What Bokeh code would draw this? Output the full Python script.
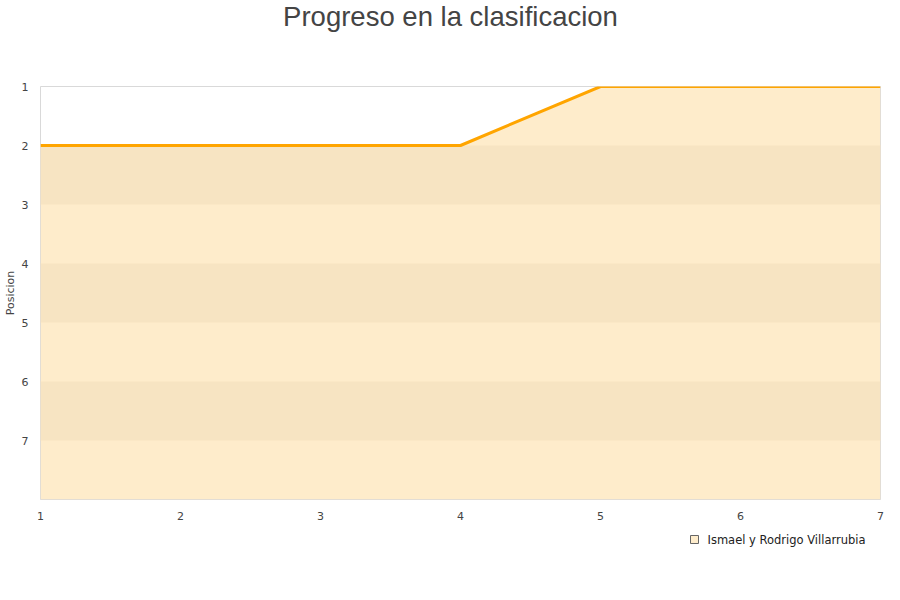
from bokeh.plotting import figure
from bokeh.models import Range1d, FixedTicker
from bokeh.layouts import column
from bokeh.core.properties import value
from bokeh.embed import file_html
from bokeh.resources import INLINE

titulo = "Progreso en la clasificacion"
jornadas = [1, 2, 3, 4, 5, 6, 7]
posicion = [2, 2, 2, 2, 1, 1, 1]
equipo = "Ismael y Rodrigo Villarrubia"
y_ticks = [1, 2, 3, 4, 5, 6, 7]
band_bottoms = [2, 4, 6]
band_tops = [3, 5, 7]
y_bottom = 8

W = 884
LEFT, RIGHT = 40, 4


def strip(h):
    f = figure(width=W, height=h, output_backend="svg", toolbar_location=None,
               x_range=Range1d(LEFT, W - RIGHT), y_range=Range1d(h, 0),
               min_border_left=LEFT, min_border_right=RIGHT,
               min_border_top=0, min_border_bottom=0,
               x_axis_type=None, y_axis_type=None)
    f.outline_line_color = None
    f.xgrid.grid_line_color = None
    f.ygrid.grid_line_color = None
    return f


# title strip
top = strip(76)
top.text(x=[450], y=[16], text=[titulo], text_font=value("Liberation Sans"),
         text_font_size="27.5px", text_color="#444444", text_align="center",
         text_baseline="alphabetic")

p = figure(width=W, height=446, output_backend="svg", toolbar_location=None,
           x_range=Range1d(1, 7), y_range=Range1d(y_bottom, 1),
           min_border_left=LEFT, min_border_right=RIGHT, min_border_top=10, min_border_bottom=22)

p.varea(x=jornadas, y1=posicion, y2=[y_bottom] * len(jornadas), fill_color="#FEECCB")
p.hbar(y=[(a + b) / 2 for a, b in zip(band_bottoms, band_tops)], height=1,
       left=jornadas[0], right=jornadas[-1], fill_color="#F7E4C2", line_color=None)
p.line(jornadas, posicion, line_color="#FFA500", line_width=3)

p.outline_line_color = "#D9D9D9"
p.xgrid.grid_line_color = None
p.ygrid.grid_line_color = "#EEDAB8"
p.ygrid.ticker = FixedTicker(ticks=y_ticks)

for ax in (p.xaxis, p.yaxis):
    ax.axis_line_color = None
    ax.major_tick_line_color = None
    ax.minor_tick_line_color = None
    ax.major_label_text_font = "DejaVu Sans"
    ax.major_label_text_font_size = "11px"
    ax.major_label_text_color = "#444444"
p.xaxis.ticker = FixedTicker(ticks=jornadas)
p.yaxis.ticker = FixedTicker(ticks=y_ticks)
p.xaxis.major_label_standoff = 6
p.yaxis.major_label_standoff = 6
p.yaxis.axis_label = "Posicion"
p.yaxis.axis_label_text_font = "DejaVu Sans"
p.yaxis.axis_label_text_font_size = "11px"
p.yaxis.axis_label_text_font_style = "normal"
p.yaxis.axis_label_text_color = "#444444"
p.yaxis.axis_label_standoff = 2

# legend strip below the chart
leg = strip(62)
leg.scatter(x=[694], y=[17], marker="square", size=8,
            fill_color="#FEECCB", line_color="#666666")
leg.text(x=[707], y=[17], text=[equipo], text_font=value("DejaVu Sans"),
         text_font_size="11.5px", text_color="#222222", text_baseline="middle")

layout = column(top, p, leg, spacing=0)
open("out.html", "w").write(file_html(layout, INLINE))
